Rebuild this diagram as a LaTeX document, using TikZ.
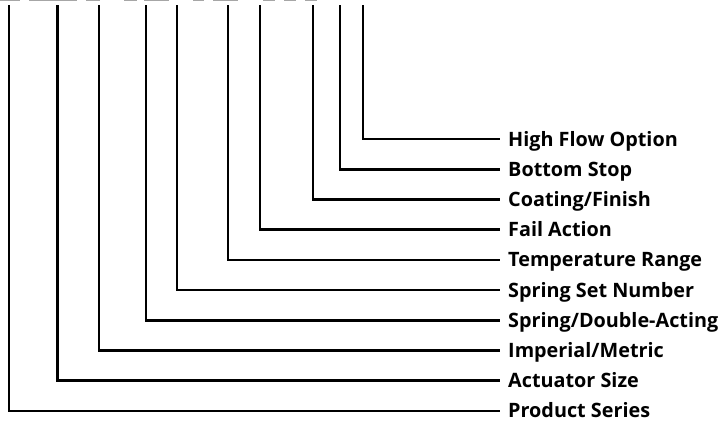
\documentclass[tikz,border=0pt]{standalone}
\usepackage{fontspec}
\setmainfont{Open Sans}
\begin{document}
\begin{tikzpicture}[x=1pt,y=-1pt,
  leader/.style={line width=2.6pt,line cap=rect,line join=miter},
  lbl/.style={anchor=west,inner sep=0pt,text height=14pt,text depth=0pt,font=\fontsize{19.8}{19.8}\selectfont\bfseries},
  frag/.style={gray!70,line width=1pt}]
\useasboundingbox (0,0) rectangle (721,423);
% cut-off fragments at top
\foreach \a/\b in {0/20,29/77,86/100,124/137,144/169,193/204,213/238,263/275,284/296,305/317}
  \draw[frag] (\a,0.5) -- (\b,0.5);
% labels
\foreach \n/\t/\y in {hf/High Flow Option/139,bs/Bottom Stop/169.2,cf/Coating\slash Finish/199.4,fa/Fail Action/229.6,tr/Temperature Range/259.8,ss/Spring Set Number/290,sd/Spring\slash Double-Acting/320.2,im/Imperial\slash Metric/350.4,as/Actuator Size/380.6,ps/Product Series/410.8}
  \node[lbl] (\n) at (508,\y) {\t};
% top coordinates
\foreach \n/\x in {hf/363,bs/340,cf/313,fa/260,tr/228,ss/177,sd/146,im/99,as/57.5,ps/9}
  \coordinate (\n top) at (\x,6);
\foreach \n in {hf,bs,cf,fa,tr,ss,sd,im,as,ps}
  \draw[leader] (\n top) |- ([xshift=-9pt]\n.west);
\end{tikzpicture}
\end{document}
